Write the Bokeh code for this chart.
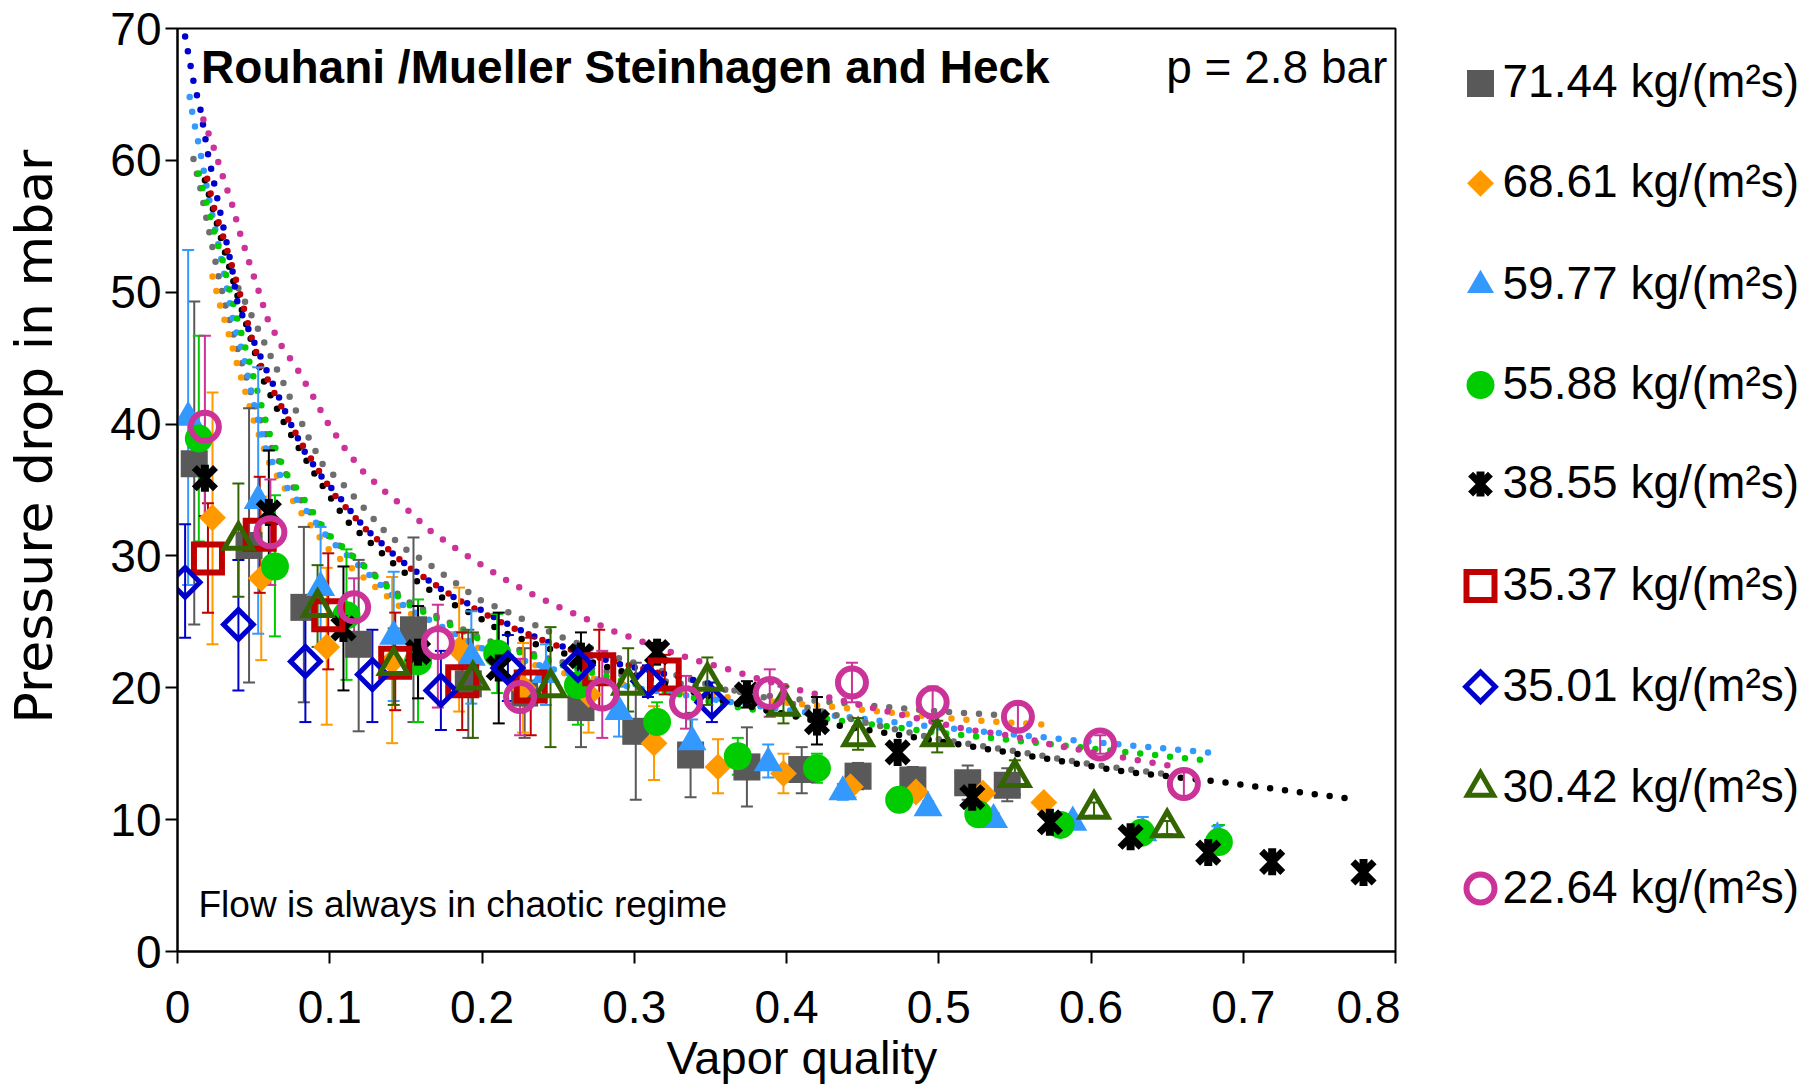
import numpy as np
from bokeh.plotting import figure
from bokeh.models import Range1d, FixedTicker, Label, CustomJSTickFormatter, Title
from bokeh.layouts import row
from bokeh.embed import file_html
from bokeh.resources import INLINE

FONT = "Liberation Sans"

# ---------------- data ----------------
labels = ["71.44 kg/(m²s)", "68.61 kg/(m²s)", "59.77 kg/(m²s)", "55.88 kg/(m²s)",
          "38.55 kg/(m²s)", "35.37 kg/(m²s)", "35.01 kg/(m²s)", "30.42 kg/(m²s)",
          "22.64 kg/(m²s)"]

x1 = [0.011, 0.047, 0.083, 0.119, 0.155, 0.191, 0.228, 0.265, 0.301, 0.337, 0.374, 0.410, 0.447, 0.483, 0.519, 0.545]
y1 = [37.0, 30.8, 26.1, 23.3, 24.4, 20.3, 19.6, 18.5, 16.7, 14.9, 14.0, 13.8, 13.3, 13.0, 12.8, 12.6]
lo1 = [24.8, 20.4, 18.9, 16.7, 17.4, 16.2, 16.2, 15.5, 11.5, 11.7, 11.0, 12.0, 12.3, 12.0, 11.5, 11.4]
hi1 = [49.3, 41.2, 32.2, 29.7, 31.4, 24.4, 23.0, 21.5, 21.9, 18.1, 17.0, 15.5, 14.3, 14.0, 14.1, 13.9]

x2 = [0.023, 0.055, 0.098, 0.141, 0.185, 0.227, 0.270, 0.313, 0.355, 0.398, 0.442, 0.485, 0.529, 0.569]
y2 = [32.9, 28.3, 23.1, 22.0, 22.9, 20.0, 19.5, 15.8, 14.0, 13.5, 12.5, 12.1, 12.0, 11.3]
lo2 = [23.3, 22.1, 17.2, 15.8, 18.2, 16.6, 16.6, 13.0, 12.0, 12.0, 11.7, 11.6, 11.5, 10.8]
hi2 = [42.4, 34.5, 29.1, 28.4, 27.6, 23.4, 22.4, 18.6, 16.1, 15.0, 13.3, 12.6, 12.5, 11.8]

x3 = [0.007, 0.053, 0.094, 0.142, 0.193, 0.242, 0.290, 0.338, 0.388, 0.437, 0.493, 0.536, 0.588, 0.634, 0.683]
y3 = [40.5, 34.2, 27.6, 23.9, 22.3, 21.0, 18.2, 15.9, 14.3, 12.1, 10.9, 10.0, 9.8, 9.0, 8.6]
lo3 = [27.8, 24.1, 23.0, 19.0, 18.8, 18.7, 16.3, 14.2, 13.2, 11.5, 10.4, 9.5, 9.3, 8.5, 8.1]
hi3 = [53.2, 44.3, 32.2, 28.8, 25.8, 23.3, 20.1, 17.6, 15.7, 12.7, 11.4, 10.5, 10.3, 10.2, 9.5]

x4 = [0.014, 0.064, 0.111, 0.158, 0.210, 0.263, 0.315, 0.368, 0.420, 0.474, 0.526, 0.580, 0.633, 0.684]
y4 = [38.9, 29.2, 25.5, 22.0, 22.6, 20.2, 17.4, 14.8, 13.9, 11.5, 10.4, 9.6, 9.0, 8.3]
lo4 = [31.1, 23.9, 20.6, 17.4, 19.6, 17.2, 15.9, 13.4, 12.8, 11.0, 9.9, 9.1, 8.5, 7.8]
hi4 = [46.7, 34.6, 30.5, 26.7, 25.6, 23.2, 18.9, 16.2, 15.0, 12.0, 10.9, 10.1, 9.5, 9.6]

x5 = [0.018, 0.060, 0.109, 0.158, 0.211, 0.265, 0.315, 0.374, 0.420, 0.473, 0.522, 0.573, 0.626, 0.677, 0.719, 0.779]
y5 = [35.9, 33.3, 24.5, 22.7, 21.5, 22.4, 22.7, 19.5, 17.4, 15.1, 11.7, 9.8, 8.7, 7.5, 6.8, 6.0]
lo5 = [33.0, 28.6, 19.8, 19.2, 17.3, 20.6, 22.0, 18.5, 15.7, 14.6, 11.2, 9.4, 8.3, 7.1, 6.4, 5.6]
hi5 = [38.8, 38.0, 29.2, 26.2, 25.7, 24.2, 23.4, 20.5, 19.3, 15.6, 12.2, 10.2, 9.1, 7.9, 7.2, 6.4]

x6 = [0.020, 0.054, 0.099, 0.143, 0.187, 0.232, 0.277, 0.320]
y6 = [29.8, 31.6, 25.5, 21.9, 20.5, 20.1, 21.4, 21.0]
lo6 = [25.7, 27.2, 21.4, 18.3, 16.8, 16.4, 18.4, 19.5]
hi6 = [34.0, 36.0, 30.2, 25.7, 24.2, 23.8, 24.4, 22.5]

x7 = [0.005, 0.040, 0.084, 0.128, 0.173, 0.217, 0.263, 0.309, 0.351]
y7 = [28.0, 24.8, 22.0, 21.0, 19.8, 21.5, 21.7, 20.5, 18.9]
lo7 = [23.8, 19.8, 17.4, 17.4, 16.8, 19.0, 20.2, 19.3, 17.4]
hi7 = [32.4, 29.7, 26.6, 24.4, 22.8, 24.0, 23.2, 21.7, 20.4]

x8 = [0.040, 0.092, 0.142, 0.194, 0.245, 0.296, 0.348, 0.398, 0.447, 0.499, 0.550, 0.602, 0.650]
y8 = [31.2, 26.1, 21.7, 20.6, 20.0, 20.2, 20.5, 18.6, 16.3, 16.3, 13.2, 10.8, 9.4]
lo8 = [26.9, 23.1, 18.7, 16.2, 15.5, 18.2, 18.7, 17.3, 15.3, 15.1, 11.9, 10.3, 8.9]
hi8 = [35.5, 29.3, 24.5, 24.2, 24.6, 23.0, 22.3, 20.1, 17.7, 17.5, 14.5, 11.3, 9.9]

x9 = [0.018, 0.061, 0.116, 0.171, 0.225, 0.279, 0.334, 0.389, 0.443, 0.496, 0.552, 0.606, 0.661]
y9 = [39.8, 31.8, 26.1, 23.4, 19.3, 19.5, 18.9, 19.6, 20.4, 18.9, 17.8, 15.7, 12.7]
lo9 = [32.9, 27.8, 23.9, 18.5, 16.4, 16.2, 16.9, 17.8, 18.9, 17.7, 16.9, 15.0, 11.8]
hi9 = [46.7, 35.8, 28.3, 26.3, 22.2, 22.8, 20.9, 21.4, 21.9, 20.1, 18.7, 16.4, 13.6]

# model curves (dotted)
fit_gray_x = [0.0105, 0.015, 0.019, 0.023, 0.027, 0.0315, 0.04, 0.05, 0.06, 0.08, 0.10, 0.15, 0.20, 0.25, 0.30, 0.40, 0.50, 0.545]
fit_gray_y = [60.1, 57.9, 55.6, 53.4, 51.2, 49.0, 45.5, 41.7, 38.6, 34.4, 31.4, 26.6, 23.7, 22.0, 20.8, 19.2, 18.2, 17.9]

fit_orange_x = [0.023, 0.028, 0.0335, 0.039, 0.0447, 0.05, 0.06, 0.07, 0.081, 0.10, 0.15, 0.20, 0.25, 0.30, 0.368, 0.435, 0.514, 0.569]
fit_orange_y = [51.2, 49.0, 46.9, 44.6, 42.4, 40.3, 37.1, 35.2, 33.3, 30.4, 25.8, 22.9, 21.2, 20.1, 19.2, 18.5, 17.6, 17.2]

fit_lblue_x = [0.008, 0.0105, 0.0145, 0.02, 0.03, 0.037, 0.043, 0.051, 0.059, 0.073, 0.087, 0.10, 0.15, 0.20, 0.25, 0.30, 0.40, 0.50, 0.60, 0.677]
fit_lblue_y = [64.8, 63.1, 60.9, 57.5, 51.8, 47.6, 45.4, 41.1, 37.8, 35.0, 33.1, 31.2, 26.1, 23.0, 21.3, 20.0, 18.3, 17.0, 15.9, 15.1]

fit_green_x = [0.014, 0.019, 0.024, 0.0295, 0.034, 0.039, 0.047, 0.052, 0.06, 0.071, 0.082, 0.0985, 0.15, 0.20, 0.25, 0.30, 0.363, 0.40, 0.50, 0.60, 0.675]
fit_green_y = [59.0, 56.8, 54.6, 52.5, 50.3, 48.1, 44.8, 42.7, 39.4, 36.3, 34.5, 31.7, 26.4, 23.6, 21.8, 20.3, 18.6, 18.0, 16.6, 15.4, 14.5]

fit_upper_x = [0.04, 0.0447, 0.0525, 0.061, 0.0696, 0.0775, 0.086, 0.095, 0.109, 0.122, 0.135, 0.15, 0.166, 0.182, 0.198, 0.216, 0.234, 0.251, 0.269, 0.288, 0.35, 0.40, 0.45, 0.50, 0.55, 0.60, 0.652]
fit_upper_y = [50.3, 49.2, 47.3, 45.2, 43.1, 41.1, 39.0, 37.0, 35.4, 33.7, 32.0, 30.5, 29.3, 28.0, 26.7, 25.8, 24.8, 23.9, 23.1, 22.3, 20.2, 18.9, 17.4, 16.1, 15.2, 14.2, 13.4]

fit_black_x = [0.018, 0.03, 0.04, 0.0565, 0.069, 0.079, 0.089, 0.10, 0.111, 0.118, 0.146, 0.163, 0.18, 0.197, 0.214, 0.233, 0.251, 0.29, 0.363, 0.431, 0.508, 0.556, 0.624, 0.683, 0.742, 0.77]
fit_black_y = [58.5, 53.5, 49.5, 43.3, 40.3, 38.3, 36.4, 34.5, 32.7, 31.9, 29.0, 27.6, 26.4, 25.4, 24.2, 23.4, 22.7, 21.3, 18.9, 17.2, 15.8, 14.9, 13.6, 12.9, 12.0, 11.6]

fit_red_x = [0.0195, 0.024, 0.030, 0.0355, 0.041, 0.0486, 0.054, 0.063, 0.072, 0.081, 0.092, 0.1025, 0.116, 0.122, 0.151, 0.167, 0.184, 0.20, 0.219, 0.236, 0.246, 0.28, 0.32]
fit_red_y = [58.6, 56.4, 54.2, 52.1, 49.9, 46.6, 44.6, 42.5, 40.5, 38.6, 36.6, 34.7, 33.0, 32.2, 29.2, 28.0, 26.7, 25.7, 24.6, 23.8, 23.3, 22.2, 21.0]

fit_blue_x = [0.005, 0.0105, 0.015, 0.02, 0.024, 0.028, 0.032, 0.036, 0.039, 0.042, 0.05, 0.058, 0.066, 0.074, 0.083, 0.094, 0.106, 0.118, 0.125, 0.146, 0.163, 0.179, 0.196, 0.214, 0.232, 0.24, 0.29, 0.35]
fit_blue_y = [69.4, 66.0, 63.9, 60.5, 58.3, 56.1, 53.9, 51.7, 49.4, 48.4, 46.3, 44.2, 42.2, 40.1, 38.0, 36.1, 34.5, 32.8, 31.9, 29.7, 28.3, 27.0, 26.1, 25.0, 24.0, 23.6, 21.8, 20.3]

fit_magenta_x = [0.017, 0.024, 0.030, 0.036, 0.041, 0.047, 0.053, 0.059, 0.068, 0.079, 0.089, 0.098, 0.109, 0.121, 0.135, 0.151, 0.165, 0.181, 0.197, 0.214, 0.231, 0.249, 0.267, 0.284, 0.303, 0.322, 0.34, 0.359, 0.378, 0.406, 0.434, 0.463, 0.481, 0.52, 0.54, 0.559, 0.578, 0.617, 0.636, 0.656]
fit_magenta_y = [63.1, 60.9, 58.7, 56.6, 54.5, 52.3, 50.2, 48.0, 46.0, 44.1, 42.1, 40.2, 38.3, 36.5, 35.0, 33.5, 32.0, 30.7, 29.5, 28.3, 27.2, 26.2, 25.3, 24.4, 23.6, 22.8, 22.1, 21.5, 20.8, 19.9, 19.1, 18.3, 17.8, 16.8, 16.5, 16.1, 15.6, 14.8, 14.4, 14.0]

x_ticks = [0, 0.1, 0.2, 0.3, 0.4, 0.5, 0.6, 0.7, 0.8]
y_ticks = [0, 10, 20, 30, 40, 50, 60, 70]

# ---------------- styles ----------------
C_GRAY = "#595959"
C_ORANGE = "#ff9900"
C_LBLUE = "#3399ff"
C_GREEN = "#00cc00"
C_BLACK = "#000000"
C_RED = "#c00000"
C_BLUE = "#0000cc"
C_DGREEN = "#336600"
C_MAG = "#cc3399"
C_FITGRAY = "#6e6e6e"

styles = [
    dict(kind="square", fill=C_GRAY, color=C_GRAY, size=27, lw=0, angle=0),
    dict(kind="square", fill=C_ORANGE, color=C_ORANGE, size=19, lw=0, angle=np.pi / 4),
    dict(kind="triangle", fill=C_LBLUE, color=C_LBLUE, size=29, lw=0, angle=0),
    dict(kind="circle", fill=C_GREEN, color=C_GREEN, size=28, lw=0, angle=0),
    dict(kind="xstar", fill=None, color=C_BLACK, size=30, lw=7, angle=0),
    dict(kind="square", fill=None, color=C_RED, size=28, lw=6, angle=0),
    dict(kind="square", fill=None, color=C_BLUE, size=21, lw=5, angle=np.pi / 4),
    dict(kind="triangle", fill=None, color=C_DGREEN, size=28, lw=5, angle=0),
    dict(kind="circle", fill=None, color=C_MAG, size=28, lw=6, angle=0),
]

series = [
    (x1, y1, lo1, hi1), (x2, y2, lo2, hi2), (x3, y3, lo3, hi3), (x4, y4, lo4, hi4),
    (x5, y5, lo5, hi5), (x6, y6, lo6, hi6), (x7, y7, lo7, hi7), (x8, y8, lo8, hi8),
    (x9, y9, lo9, hi9),
]

fits = [
    (fit_gray_x, fit_gray_y, C_FITGRAY),
    (fit_orange_x, fit_orange_y, C_ORANGE),
    (fit_lblue_x, fit_lblue_y, C_LBLUE),
    (fit_green_x, fit_green_y, C_GREEN),
    (fit_upper_x, fit_upper_y, C_FITGRAY),
    (fit_black_x, fit_black_y, C_BLACK),
    (fit_red_x, fit_red_y, C_RED),
    (fit_blue_x, fit_blue_y, C_BLUE),
    (fit_magenta_x, fit_magenta_y, C_MAG),
]


def draw_marker(fig, x, y, st):
    c = st["color"]
    if st["kind"] == "xstar":
        fig.scatter(x, y, marker="x", size=st["size"], line_color=c, line_width=st["lw"])
        fig.scatter(x, y, marker="dash", angle=np.pi / 2, size=st["size"] * 0.9,
                    line_color=c, line_width=st["lw"] + 1)
    elif st["fill"] is not None:
        fig.scatter(x, y, marker=st["kind"], size=st["size"], angle=st["angle"],
                    fill_color=st["fill"], line_color=None)
    else:
        fig.scatter(x, y, marker=st["kind"], size=st["size"], angle=st["angle"],
                    fill_color=None, line_color=c, line_width=st["lw"],
                    line_join="miter")


# ---------------- main plot ----------------
p = figure(width=1400, height=1087, x_range=Range1d(0, 0.8), y_range=Range1d(0, 70),
           output_backend="svg", toolbar_location=None,
           min_border_left=177, min_border_right=5, min_border_top=28, min_border_bottom=135)
p.background_fill_color = "white"
p.border_fill_color = "white"
p.outline_line_color = "black"
p.outline_line_width = 2
p.grid.visible = False

for ax in (p.xaxis[0], p.yaxis[0]):
    ax.axis_line_color = "black"
    ax.axis_line_width = 2
    ax.major_tick_line_color = "black"
    ax.major_tick_line_width = 2
    ax.major_tick_out = 12
    ax.major_tick_in = 0
    ax.minor_tick_line_color = None
    ax.major_label_text_font = FONT
    ax.major_label_text_font_size = "46px"
    ax.major_label_text_color = "black"

p.xaxis.ticker = FixedTicker(ticks=x_ticks)
p.yaxis.ticker = FixedTicker(ticks=y_ticks)
p.xaxis.formatter = CustomJSTickFormatter(code="return tick === 0 ? '0' : tick.toFixed(1);")
p.xaxis.major_label_standoff = 27
p.yaxis.major_label_standoff = 4

# axis titles as side-panel titles; a thin spacer title pushes the y title outwards
p.add_layout(Title(text=" ", standoff=40, text_font_size="1px"), "left")
p.add_layout(Title(text="Pressure drop in mbar", align="right", offset=121, standoff=0,
                   vertical_align="middle",
                   text_font="DejaVu Sans", text_font_size="52px",
                   text_font_style="normal", text_color="black"), "left")
p.add_layout(Title(text="Vapor quality", align="left", offset=489, standoff=7,
                   vertical_align="bottom",
                   text_font=FONT, text_font_size="47px",
                   text_font_style="normal", text_color="black"), "below")

# dotted model curves
for fx, fy, fc in fits:
    p.line(fx, fy, line_color=fc, line_width=6.5, line_dash="0 15", line_cap="round")

# error bars then markers
for (sx, sy, slo, shi), st in zip(series, styles):
    c = st["color"]
    p.segment(x0=sx, y0=slo, x1=sx, y1=shi, line_color=c, line_width=2)
    p.scatter(sx, slo, marker="dash", size=12, line_color=c, line_width=2)
    p.scatter(sx, shi, marker="dash", size=12, line_color=c, line_width=2)
for (sx, sy, slo, shi), st in zip(series, styles):
    draw_marker(p, sx, sy, st)

p.add_layout(Label(x=0.0155, y=67.05, text="Rouhani /Mueller Steinhagen and Heck",
                   text_font=FONT, text_font_size="46px", text_font_style="bold",
                   text_color="black", text_baseline="alphabetic"))
p.add_layout(Label(x=0.7947, y=67.05, text="p = 2.8 bar", text_align="right",
                   text_font=FONT, text_font_size="46px", text_color="black",
                   text_baseline="alphabetic"))
p.add_layout(Label(x=0.0138, y=3.55, text="Flow is always in chaotic regime",
                   text_font=FONT, text_font_size="37px", text_color="black",
                   text_baseline="alphabetic"))

# ---------------- legend panel ----------------
leg = figure(width=412, height=1087, x_range=Range1d(1400, 1812), y_range=Range1d(952, 28),
             output_backend="svg", toolbar_location=None,
             min_border_left=0, min_border_right=0, min_border_top=28, min_border_bottom=135)
leg.axis.visible = False
leg.grid.visible = False
leg.outline_line_color = None
leg.background_fill_color = "white"
leg.border_fill_color = "white"

legend_marker_x = 1480
legend_text_x = 1502
legend_y = [83, 183, 285, 385, 484, 586, 687, 788, 889]
legend_sizes = [27, 19, 27, 28, 28, 28, 21, 26, 28]
for lab, st, ly, ls in zip(labels, styles, legend_y, legend_sizes):
    st2 = dict(st)
    st2["size"] = ls
    draw_marker(leg, [legend_marker_x], [ly], st2)
    leg.text([legend_text_x], [ly - 2], text=[lab], text_font_size="46px",
             text_baseline="alphabetic", text_align="left", text_color="black",
             text_font={"value": FONT})

layout = row(p, leg, spacing=0)
open("out.html", "w").write(file_html(layout, INLINE))
